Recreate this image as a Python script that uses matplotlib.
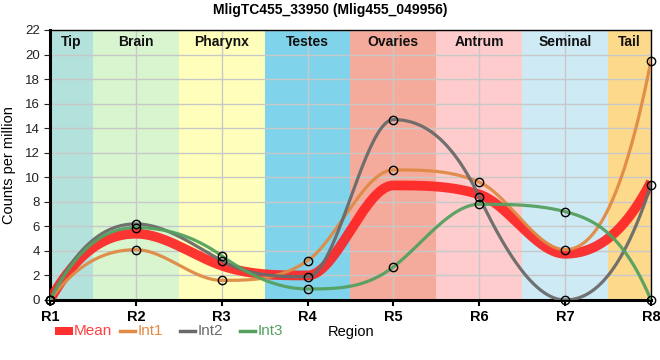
import numpy as np
import matplotlib
matplotlib.use("Agg")
import matplotlib.pyplot as plt
from matplotlib.lines import Line2D
from matplotlib.patches import Rectangle

plt.rcParams['font.family'] = ['Liberation Sans', 'DejaVu Sans']

regions = ["R1", "R2", "R3", "R4", "R5", "R6", "R7", "R8"]
int1 = [0, 4.1, 1.6, 3.2, 10.6, 9.6, 4.1, 19.5]
int2 = [0, 6.2, 3.2, 1.9, 14.7, 8.4, 0, 9.4]
int3 = [0, 5.9, 3.6, 0.9, 2.7, 7.8, 7.2, 0]
mean = list(np.mean([int1, int2, int3], axis=0))

tissues = ["Tip", "Brain", "Pharynx", "Testes", "Ovaries", "Antrum", "Seminal", "Tail"]
band_colors = ["#b3e2dd", "#d8f5d0", "#ffffbb", "#7fd4eb", "#f5ab9c", "#fecccc", "#cdeaf5", "#fdd98c"]

legend_names = ["Mean", "Int1", "Int2", "Int3"]
line_colors = ["#ff2020", "#e08a45", "#6a6a6a", "#55a060"]


def smooth(y, n=80):
    # hermite curve: flat at local extremes, steep tangents elsewhere (kept monotone)
    y = np.asarray(y, float)
    k = len(y)
    d = np.diff(y)
    m = np.zeros(k)
    m[0] = 2.3 * d[0]
    m[-1] = 2.3 * d[-1]
    for i in range(1, k - 1):
        s0, s1 = d[i - 1], d[i]
        if s0 * s1 > 0:
            lim = 3 * min(abs(s0), abs(s1))
            m[i] = np.clip(y[i + 1] - y[i - 1], -lim, lim)
    t = np.linspace(0, 1, n)
    h00 = 2 * t**3 - 3 * t**2 + 1
    h10 = t**3 - 2 * t**2 + t
    h01 = -2 * t**3 + 3 * t**2
    h11 = t**3 - t**2
    xs, ys = [], []
    for i in range(k - 1):
        xs.append(i + t)
        ys.append(h00 * y[i] + h10 * m[i] + h01 * y[i + 1] + h11 * m[i + 1])
    return np.concatenate(xs), np.concatenate(ys)


x = np.arange(len(regions))

fig = plt.figure(figsize=(6.6, 3.6), dpi=100)
ax = fig.add_axes([50 / 660, 60 / 360, 601 / 660, 270 / 360])

# tissue bands
for i, (name, c) in enumerate(zip(tissues, band_colors)):
    lo = max(i - 0.5, 0)
    hi = min(i + 0.5, len(regions) - 1)
    ax.axvspan(lo, hi, color=c, lw=0, zorder=0)
    ax.text((lo + hi) / 2, 21.0, name, ha="center", va="center",
            fontsize=10, fontweight="bold", color="#111111", zorder=5)

ax.grid(True, color="#c8c8c8", lw=1, zorder=1)
ax.set_axisbelow(True)

sx, sy = smooth(mean)
ax.plot(sx, sy, color=line_colors[0], lw=7, alpha=0.9, solid_capstyle="butt", zorder=3)
series = [int1, int2, int3]
for vals, c in zip(series, line_colors[1:]):
    sx, sy = smooth(vals)
    ax.plot(sx, sy, color=c, lw=2.3, alpha=0.95, zorder=3)
for vals in series:
    ax.plot(x, vals, "o", ms=6, mfc="none", mec="black", mew=1, zorder=6, clip_on=False)

ax.set_xlim(0, len(regions) - 1)
ax.set_ylim(0, 22)
ax.set_yticks(range(0, 23, 2))
ax.set_xticks(x)
ax.set_xticklabels(regions, fontsize=10.5, fontweight="bold")
ax.tick_params(axis="y", labelsize=9.5, length=4, colors="#222222")
ax.tick_params(axis="x", length=4, width=1.5)
for s in ["left", "bottom"]:
    ax.spines[s].set_linewidth(2.2)
for s in ["top", "right"]:
    ax.spines[s].set_linewidth(1)
ax.set_ylabel("Counts per million", fontsize=10.5, labelpad=6)

fig.text(0.5, 1 - 10 / 360, "MligTC455_33950 (Mlig455_049956)", ha="center", va="center",
         fontsize=10, fontweight="bold")

# legend row under the axis
ly = 1 - 331 / 360
starts = [55, 120, 180, 240]
for name, c, x0 in zip(legend_names, line_colors, starts):
    if name == "Mean":
        fig.add_artist(Rectangle((x0 / 660, ly - 4 / 360), 18 / 660, 8 / 360,
                                 transform=fig.transFigure, color="#ff3030", lw=0))
        tx = x0 + 19
    else:
        fig.add_artist(Line2D([x0 / 660, (x0 + 15) / 660], [ly, ly],
                              transform=fig.transFigure, color=c, lw=2.5))
        tx = x0 + 18
    fig.text(tx / 660, ly, name, ha="left", va="center", fontsize=11,
             color="#ff4040" if name == "Mean" else c)
fig.text(351 / 660, 1 - 332 / 360, "Region", ha="center", va="center", fontsize=10.5)

fig.savefig("out.png", dpi=100)
